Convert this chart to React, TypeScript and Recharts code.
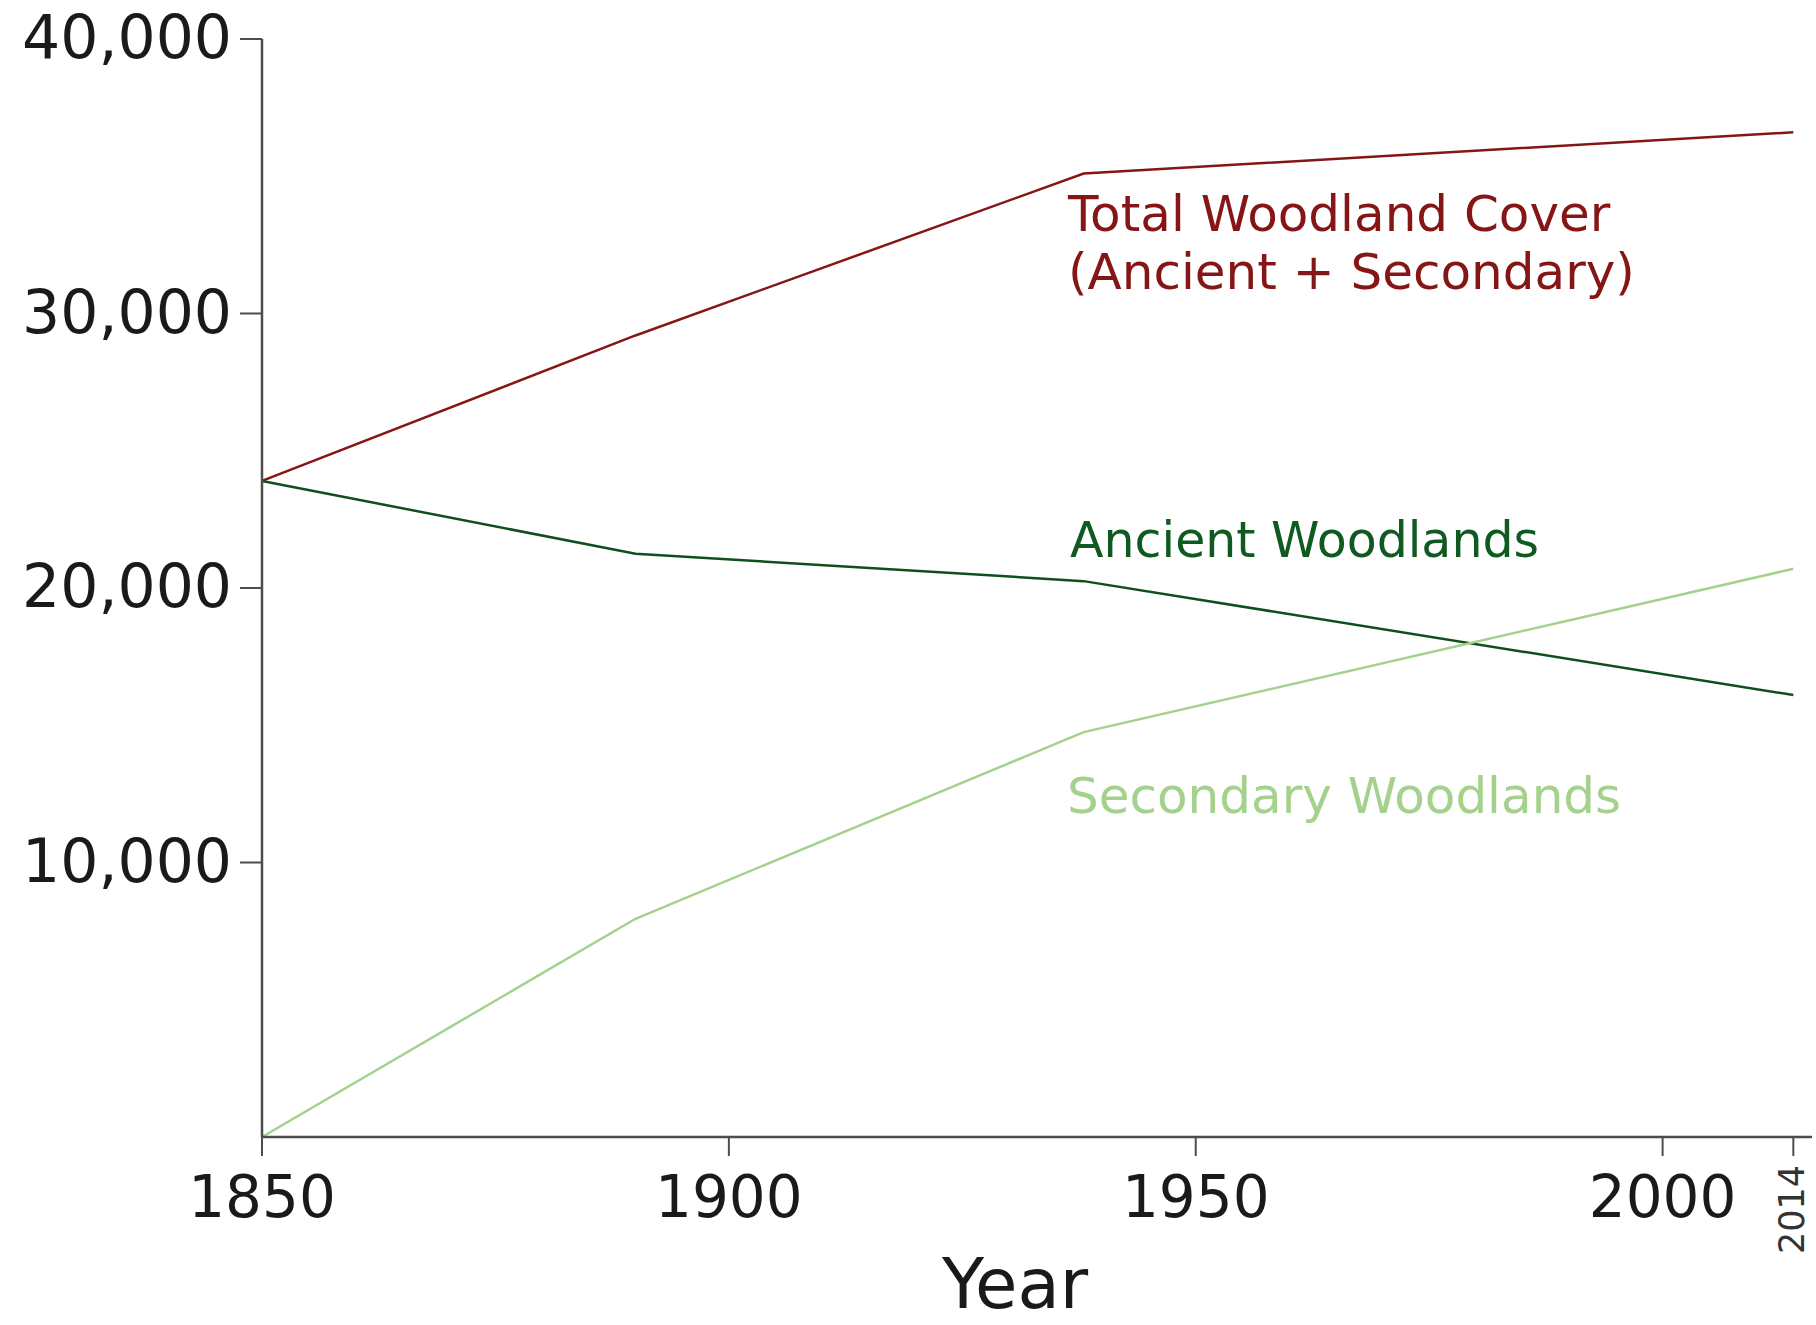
import React from "react";
import { LineChart, Line, XAxis, YAxis } from "recharts";

const years = [1850, 1890, 1938, 2014];
const totalCover = [23900, 29200, 35100, 36600];
const ancient = [23900, 21250, 20250, 16100];
const secondary = [0, 7950, 14750, 20700];
const xTicks = [1850, 1900, 1950, 2000, 2014];
const yTicks = [10000, 20000, 30000, 40000];

const data = years.map((y, i) => ({
  year: y,
  total: totalCover[i],
  ancient: ancient[i],
  secondary: secondary[i],
}));

const FONT = "'DejaVu Sans', Verdana, sans-serif";
const RED = "#861616";
const DARKGREEN = "#0f4f1c";
const DARKGREEN_TEXT = "#0e5a20";
const LIGHTGREEN = "#a4d28c";

const XTick = (props: any) => {
  const { x, y, payload } = props;
  if (payload.value === 2014) {
    const tx = x + 11;
    const ty = y + 9;
    return (
      <text
        x={tx}
        y={ty}
        textAnchor="end"
        fontSize={35}
        fontFamily={FONT}
        fill="#333"
        transform={`rotate(-90, ${tx}, ${ty})`}
      >
        {payload.value}
      </text>
    );
  }
  return (
    <text x={x} y={y + 61} textAnchor="middle" fontSize={58} fontFamily={FONT} fill="#1a1a1a">
      {payload.value}
    </text>
  );
};

const YTick = (props: any) => {
  const { x, y, payload } = props;
  return (
    <text x={x} y={y + 19} textAnchor="end" fontSize={60} fontFamily={FONT} fill="#1a1a1a">
      {Number(payload.value).toLocaleString("en-US")}
    </text>
  );
};

export default function App() {
  return (
    <div style={{ position: "absolute", left: 0, top: 0, width: 1816, height: 1325, background: "#fff" }}>
      <LineChart
        width={1816}
        height={1325}
        data={data}
        margin={{ top: 39, right: 4, bottom: 0, left: 0 }}
      >
        <XAxis
          dataKey="year"
          type="number"
          domain={[1850, 2016]}
          ticks={xTicks}
          interval={0}
          height={188}
          tickSize={19}
          tickMargin={0}
          tick={<XTick />}
          stroke="#4d4d4d"
          strokeWidth={2}
          tickLine={{ stroke: "#4d4d4d", strokeWidth: 2 }}
          axisLine={{ stroke: "#4d4d4d", strokeWidth: 2.5 }}
        />
        <YAxis
          type="number"
          domain={[0, 40000]}
          ticks={yTicks}
          interval={0}
          width={262}
          tickSize={22}
          tickMargin={8}
          tick={<YTick />}
          stroke="#4d4d4d"
          strokeWidth={2}
          tickLine={{ stroke: "#4d4d4d", strokeWidth: 2 }}
          axisLine={{ stroke: "#4d4d4d", strokeWidth: 2.5 }}
        />
        <Line type="linear" dataKey="total" stroke={RED} strokeWidth={2.5} dot={false} isAnimationActive={false} />
        <Line type="linear" dataKey="ancient" stroke={DARKGREEN} strokeWidth={2.5} dot={false} isAnimationActive={false} />
        <Line type="linear" dataKey="secondary" stroke={LIGHTGREEN} strokeWidth={2.5} dot={false} isAnimationActive={false} />
      </LineChart>
      <svg
        width={1816}
        height={1325}
        style={{ position: "absolute", left: 0, top: 0, pointerEvents: "none" }}
      >
        <text x={1068} y={231} fontSize={50} fontFamily={FONT} fill={RED}>
          Total Woodland Cover
        </text>
        <text x={1068} y={289} fontSize={50} fontFamily={FONT} fill={RED}>
          (Ancient + Secondary)
        </text>
        <text x={1070} y={557} fontSize={49} fontFamily={FONT} fill={DARKGREEN_TEXT}>
          Ancient Woodlands
        </text>
        <text x={1067} y={813} fontSize={50} fontFamily={FONT} fill={LIGHTGREEN}>
          Secondary Woodlands
        </text>
        <text x={1015} y={1308} fontSize={69} fontFamily={FONT} fill="#1a1a1a" textAnchor="middle">
          Year
        </text>
      </svg>
    </div>
  );
}
